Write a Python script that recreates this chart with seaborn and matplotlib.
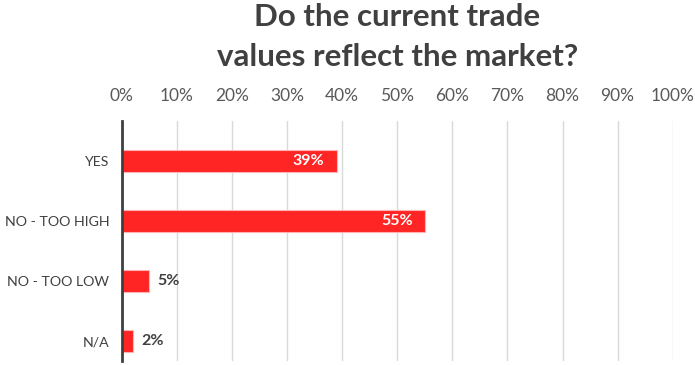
import matplotlib
matplotlib.use('Agg')
import matplotlib.pyplot as plt
import seaborn as sns
import pandas as pd
from matplotlib.ticker import FuncFormatter

# Dados do gráfico
respostas = ['YES', 'NO - TOO HIGH', 'NO - TOO LOW', 'N/A']
percentuais = [39, 55, 5, 2]
ticks_x = [0, 10, 20, 30, 40, 50, 60, 70, 80, 90, 100]
titulo = ['Do the current trade', 'values reflect the market?']

df = pd.DataFrame({'resposta': respostas, 'pct': percentuais})

sns.set_style('white')
plt.rcParams['font.family'] = ['Lato', 'DejaVu Sans']

fig = plt.figure(figsize=(6.95, 3.65), dpi=100)
left, right = 121.7 / 695, 672.7 / 695
bottom, top = 1 - 361 / 365, 1 - 121 / 365
ax = fig.add_axes([left, bottom, right - left, top - bottom])

sns.barplot(data=df, x='pct', y='resposta', orient='h', ax=ax,
            color='#FF2525', saturation=1, width=0.36,
            edgecolor='#FFB3B3', linewidth=0.8, zorder=3)

ax.set_xlim(0, 100)
ax.set_ylim(3.333, -0.667)
ax.set_xticks(ticks_x)
ax.xaxis.set_major_formatter(FuncFormatter(lambda v, p: f'{v:.0f}%'))
ax.xaxis.tick_top()
ax.tick_params(axis='x', length=0, pad=12, labelsize=12.5, labelcolor='#595959')
ax.tick_params(axis='y', length=0, pad=9, labelsize=10.2, labelcolor='#404040')
ax.set_xlabel('')
ax.set_ylabel('')
ax.grid(axis='x', color='#D9D9D9', linewidth=1, zorder=0)
ax.grid(axis='y', visible=False)
for s in ['top', 'right', 'bottom']:
    ax.spines[s].set_visible(False)
ax.spines['left'].set_color('#404040')
ax.spines['left'].set_linewidth(2)
ax.spines['left'].set_zorder(5)

# Rótulos de dados
for i, v in enumerate(percentuais):
    if v > 20:
        ax.text(v - 2.2, i, f'{v}%', ha='right', va='center', color='white',
                fontsize=11.5, fontweight='bold', zorder=6)
    else:
        ax.text(v + 1.5, i, f'{v}%', ha='left', va='center', color='#404040',
                fontsize=11.5, fontweight='bold', zorder=6)

# Título em duas linhas
for linha, base in zip(titulo, [26, 66]):
    fig.text((left + right) / 2, 1 - base / 365, linha, ha='center', va='baseline',
             fontsize=22.5, fontweight='bold', color='#404040')

fig.savefig('out.png', dpi=100)
